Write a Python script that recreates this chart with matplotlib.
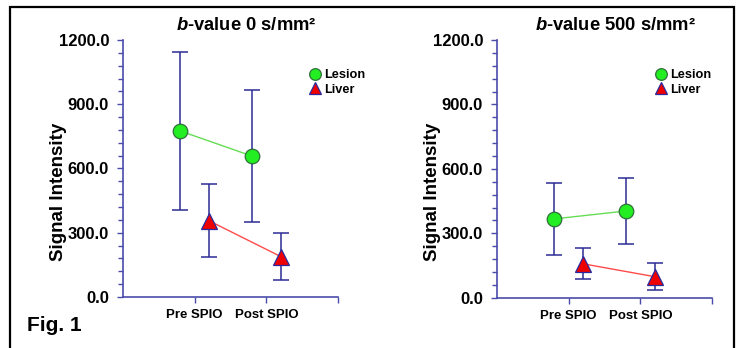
"""Two-panel SPIO signal intensity plot (b=0 and b=500), mean +/- SD."""
import numpy as np
import matplotlib
matplotlib.use("Agg")
import matplotlib.pyplot as plt
import matplotlib.patches as mpatches
from matplotlib.ticker import MultipleLocator, FormatStrFormatter

plt.rcParams.update({
    "font.family": ["Liberation Sans", "DejaVu Sans"],
    "font.weight": "bold",
    "mathtext.fontset": "custom",
    "mathtext.it": "Liberation Sans:italic:bold",
    "mathtext.rm": "Liberation Sans:bold",
})

# ── data ─────────────────────────────────────────────────────────
CATEGORIES = ["Pre SPIO", "Post SPIO"]
SERIES = ["Lesion", "Liver"]
TITLES = ["$b$-value 0 s/mm²", "$b$-value 500 s/mm²"]

b0_lesion_mean = [775, 658]
b0_lesion_sd = [370, 310]
b0_liver_mean = [356, 189]
b0_liver_sd = [171, 108]

b500_lesion_mean = [367, 404]
b500_lesion_sd = [166, 153]
b500_liver_mean = [158, 98]
b500_liver_sd = [72, 62]

# ── styles ───────────────────────────────────────────────────────
AXIS_COLOR = "#4b4bab"
ERR_COLOR = "#2c2c96"
LESION_FACE, LESION_EDGE, LESION_LINE = "#22ee22", "#2f6f3a", "#66dd55"
LIVER_FACE, LIVER_EDGE, LIVER_LINE = "#ee0000", "#2a2aa0", "#ff4a4a"
OFFSET = 0.2

W, H = 739, 348
fig = plt.figure(figsize=(W / 100, H / 100), dpi=100)

panels = [
    dict(rect=[123 / W, 0.1466, 215 / W, 0.7385], title=TITLES[0],
         lesion=(b0_lesion_mean, b0_lesion_sd), liver=(b0_liver_mean, b0_liver_sd),
         title_x=0.572, leg_x=0.905),
    dict(rect=[497 / W, 0.1445, 215 / W, 0.7405], title=TITLES[1],
         lesion=(b500_lesion_mean, b500_lesion_sd), liver=(b500_liver_mean, b500_liver_sd),
         title_x=0.553, leg_x=0.775),
]

pos = np.arange(1, len(CATEGORIES) + 1)

for p in panels:
    ax = fig.add_axes(p["rect"])
    lm, ls = p["lesion"]
    vm, vs = p["liver"]

    ax.errorbar(pos - OFFSET, lm, yerr=ls, fmt="none", ecolor=ERR_COLOR,
                elinewidth=1.1, capsize=5.5, capthick=1.1, zorder=2)
    ax.errorbar(pos + OFFSET, vm, yerr=vs, fmt="none", ecolor=ERR_COLOR,
                elinewidth=1.1, capsize=5.5, capthick=1.1, zorder=2)
    ax.plot(pos - OFFSET, lm, color=LESION_LINE, lw=1.0, zorder=3)
    ax.plot(pos + OFFSET, vm, color=LIVER_LINE, lw=1.0, zorder=3)
    h1, = ax.plot(pos - OFFSET, lm, ls="none", marker="o", ms=10.5,
                  mfc=LESION_FACE, mec=LESION_EDGE, mew=0.9, zorder=4,
                  label=SERIES[0])
    h2, = ax.plot(pos + OFFSET, vm, ls="none", marker="^", ms=11,
                  mfc=LIVER_FACE, mec=LIVER_EDGE, mew=0.9, zorder=4,
                  label=SERIES[1])

    ax.set_xlim(0, 3)
    ax.set_ylim(0, 1200)
    ax.set_xticks([1, 2, 3])
    ax.set_xticklabels(CATEGORIES + [""], fontsize=9.5, fontweight="bold")
    ax.yaxis.set_major_locator(MultipleLocator(300))
    ax.yaxis.set_minor_locator(MultipleLocator(60))
    ax.yaxis.set_major_formatter(FormatStrFormatter("%.1f"))
    for lbl in ax.get_yticklabels():
        lbl.set_fontsize(12)
        lbl.set_fontweight("bold")

    for side in ("top", "right"):
        ax.spines[side].set_visible(False)
    for side in ("left", "bottom"):
        ax.spines[side].set_color(AXIS_COLOR)
        ax.spines[side].set_linewidth(1.2)
    ax.tick_params(axis="both", which="both", color=AXIS_COLOR, width=1.0,
                   direction="out")
    ax.tick_params(axis="y", which="major", length=4, pad=6)
    ax.tick_params(axis="y", which="minor", length=3.5)
    ax.tick_params(axis="x", which="major", length=4, pad=5)

    ax.set_ylabel("Signal Intensity", fontsize=13.5, fontweight="bold", va="center")
    ax.yaxis.set_label_coords(-0.298, 0.41)

    ax.text(p["title_x"], 1.058, p["title"], transform=ax.transAxes,
            ha="center", va="center", fontsize=13.2, fontweight="bold")

    ax.legend(handles=[h1, h2], loc="center left",
              bbox_to_anchor=(p["leg_x"] - 0.035, 0.835), frameon=False,
              markerscale=0.8, handlelength=0.8, handletextpad=0.3,
              labelspacing=0.2, borderpad=0, borderaxespad=0,
              prop={"weight": "bold", "size": 9.2})

# outer frame (bottom edge runs off the canvas)
fig.patches.append(mpatches.Rectangle(
    (9.5 / W, -0.05), (734 - 9.5) / W, 1.05 - 6.5 / H,
    transform=fig.transFigure, fill=False, edgecolor="black", lw=1.6))

fig.text(27 / W, 1 - 331 / H, "Fig. 1", ha="left", va="baseline",
         fontsize=15, fontweight="bold")

fig.savefig("out.png", dpi=100)
